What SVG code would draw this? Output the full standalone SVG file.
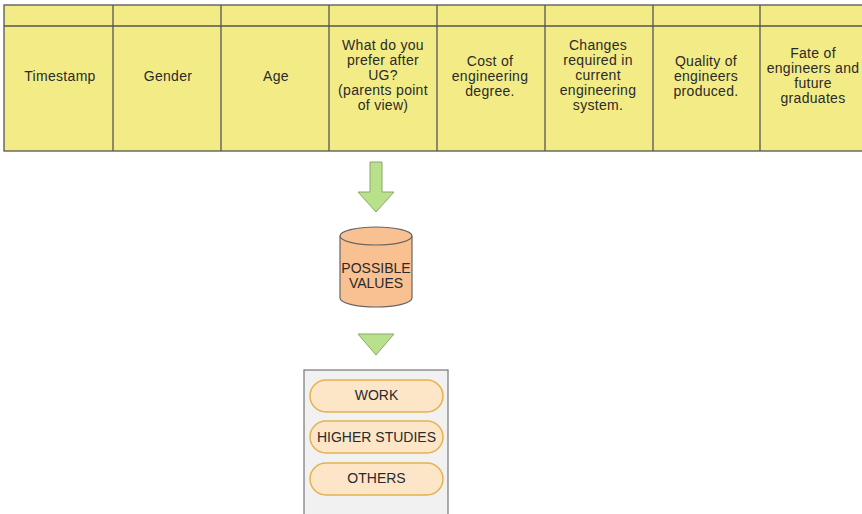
<svg xmlns="http://www.w3.org/2000/svg" width="862" height="514" viewBox="0 0 862 514">
  <style>
    .cell { fill: #f3ec86; stroke: #555; stroke-width: 1.3; }
    .hdr { font-family: "Liberation Sans", Arial, sans-serif; font-size: 14px; letter-spacing: 0.3px; fill: #2a2a2a; text-anchor: middle; }
    .arrow { fill: #b9e08a; stroke: #8aa86a; stroke-width: 1; }
    .pill { fill: #fde6c8; stroke: #e2b34c; stroke-width: 1.5; }
    .lbl { font-family: "Liberation Sans", Arial, sans-serif; font-size: 14px; fill: #2a2a2a; text-anchor: middle; }
  </style>
  <rect width="862" height="514" fill="#ffffff"/>

  <!-- table of survey columns -->
  <g id="table">
    <rect class="cell" x="4" y="5" width="864" height="146"/>
    <line x1="4" y1="26" x2="868" y2="26" stroke="#555" stroke-width="1.3"/>
    <g stroke="#555" stroke-width="1.3">
      <line x1="113" y1="5" x2="113" y2="151"/>
      <line x1="221" y1="5" x2="221" y2="151"/>
      <line x1="329" y1="5" x2="329" y2="151"/>
      <line x1="437" y1="5" x2="437" y2="151"/>
      <line x1="545" y1="5" x2="545" y2="151"/>
      <line x1="653" y1="5" x2="653" y2="151"/>
      <line x1="760" y1="5" x2="760" y2="151"/>
    </g>
  </g>
  <g id="col-timestamp"><text class="hdr" x="60" y="81">Timestamp</text></g>
  <g id="col-gender"><text class="hdr" x="168" y="81">Gender</text></g>
  <g id="col-age"><text class="hdr" x="276" y="81">Age</text></g>
  <g id="col-preference">
    <text class="hdr" x="383" y="50">What do you</text>
    <text class="hdr" x="383" y="65">prefer after</text>
    <text class="hdr" x="383" y="80">UG?</text>
    <text class="hdr" x="383" y="95">(parents point</text>
    <text class="hdr" x="383" y="110">of view)</text>
  </g>
  <g id="col-cost">
    <text class="hdr" x="490" y="66">Cost of</text>
    <text class="hdr" x="490" y="81">engineering</text>
    <text class="hdr" x="490" y="96">degree.</text>
  </g>
  <g id="col-changes">
    <text class="hdr" x="598" y="50">Changes</text>
    <text class="hdr" x="598" y="65">required in</text>
    <text class="hdr" x="598" y="80">current</text>
    <text class="hdr" x="598" y="95">engineering</text>
    <text class="hdr" x="598" y="110">system.</text>
  </g>
  <g id="col-quality">
    <text class="hdr" x="706" y="66">Quality of</text>
    <text class="hdr" x="706" y="81">engineers</text>
    <text class="hdr" x="706" y="96">produced.</text>
  </g>
  <g id="col-fate">
    <text class="hdr" x="813" y="58">Fate of</text>
    <text class="hdr" x="813" y="73">engineers and</text>
    <text class="hdr" x="813" y="88">future</text>
    <text class="hdr" x="813" y="103">graduates</text>
  </g>

  <!-- flow arrows -->
  <g id="connectors">
    <path class="arrow" d="M370,162 H382 V192 H394 L376,212 L358,192 H370 Z"/>
    <path class="arrow" d="M358,334 H394 L376,355 Z"/>
  </g>

  <!-- database cylinder -->
  <g id="possible-values">
    <path d="M340,236 V298 A36,9 0 0 0 412,298 V236 A36,9 0 0 0 340,236 Z" fill="#f9c191" stroke="#666" stroke-width="1.2"/>
    <path d="M340,236 A36,9 0 0 0 412,236" fill="none" stroke="#666" stroke-width="1.2"/>
    <text class="lbl" x="376" y="273">POSSIBLE</text>
    <text class="lbl" x="376" y="288">VALUES</text>
  </g>

  <!-- list of values -->
  <g id="values-panel">
    <rect x="304" y="370" width="144" height="150" fill="#f1f1f1" stroke="#777" stroke-width="1.2"/>
  </g>
  <g id="work">
    <rect class="pill" x="310" y="380" width="133" height="32" rx="16"/>
    <text class="lbl" x="376.5" y="400">WORK</text>
  </g>
  <g id="higher-studies">
    <rect class="pill" x="310" y="421" width="133" height="32" rx="16"/>
    <text class="lbl" x="376.5" y="442">HIGHER STUDIES</text>
  </g>
  <g id="others">
    <rect class="pill" x="310" y="463" width="133" height="32" rx="16"/>
    <text class="lbl" x="376.5" y="483">OTHERS</text>
  </g>
</svg>
